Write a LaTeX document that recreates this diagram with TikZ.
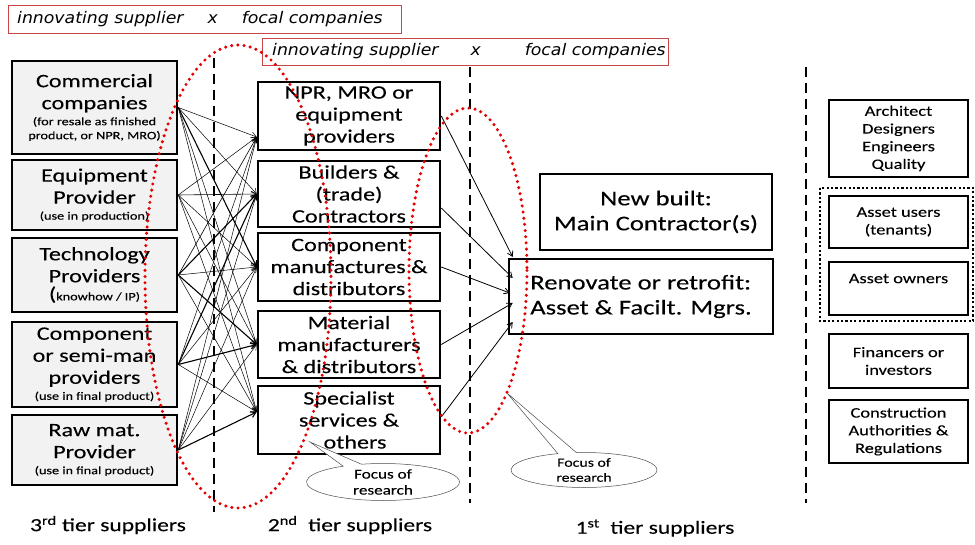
\documentclass[tikz,border=0pt]{standalone}
\usepackage{fontspec}
\setmainfont{Carlito}[FakeStretch=1.27, FakeBold=0.15]
\newfontfamily\verd{DejaVu Sans}[FakeStretch=1.08]
\usetikzlibrary{arrows.meta,shapes.geometric,shapes.callouts}
\definecolor{lgray}{RGB}{242,242,242}
\definecolor{dotred}{RGB}{230,0,0}
\definecolor{boxred}{RGB}{200,70,70}
\newcommand\sm[1]{{\fontsize{11.2}{12}\selectfont #1}}
\tikzset{
  box/.style={draw, line width=2.6pt, align=center, inner sep=0pt, font=\fontsize{19}{22}\selectfont},
  lbox/.style={box, fill=lgray, minimum width=165pt},
  mbox/.style={box, fill=white, minimum width=182pt},
  fbox/.style={box, fill=white, font=\fontsize{21}{25}\selectfont},
  rbox/.style={draw, line width=2.4pt, align=center, inner sep=0pt, minimum width=139pt, font=\fontsize{14.5}{17.7}\selectfont},
  arr/.style={-{Straight Barb[length=5pt,width=6pt]}, line width=0.5pt},
  tierdash/.style={line width=2.8pt, dash pattern=on 10pt off 6pt},
  reddots/.style={draw=dotred, line width=3.4pt, dash pattern=on 0pt off 6.2pt, line cap=round},
  redtext/.style={font=\verd\fontsize{16}{18}\selectfont\itshape, anchor=west, inner sep=0pt},
  focus/.style={ellipse callout, draw=black!70, line width=0.5pt, fill=white, align=center, inner sep=0pt},
  tierlabel/.style={font=\fontsize{18.5}{20}\selectfont, inner sep=0pt}
}
\begin{document}
\begin{tikzpicture}[x=1pt,y=-1pt]
\path[use as bounding box, fill=white] (0,0) rectangle (975,545);

% top red boxes
\draw[boxred, line width=0.8pt] (8,5) rectangle (401,33);
\node[redtext] (t1) at (17,19) {innovating supplier\hspace{24pt}x\hspace{24pt}focal companies};
\draw[boxred, line width=0.8pt] (262,38) rectangle (668,65);
\node[redtext] (t2) at (272,51) {innovating supplier\hspace{32pt}x\hspace{44pt}focal companies};

% dashed tier separators
\coordinate (d1a) at (214,58); \coordinate (d1b) at (214,512);
\coordinate (d2a) at (470,67); \coordinate (d2b) at (470,503);
\coordinate (d3a) at (806,67); \coordinate (d3b) at (806,503);
\draw[tierdash] (d1a) -- (d1b);
\draw[tierdash] (d2a) -- (d2b);
\draw[tierdash] (d3a) -- (d3b);

% 3rd tier
\node[lbox, minimum height=93pt] (com) at (94.5,107.5) {Commercial\\companies\\[-6pt]\sm{(for resale as finished}\\[-8pt]\sm{product, or NPR, MRO)}};
\node[lbox, minimum height=70pt] (equ) at (94.5,195) {Equipment\\Provider\\[-6pt]\sm{(use in production)}};
\node[lbox, minimum height=74pt] (tech) at (94.5,275) {Technology\\Providers\\[-4pt](\sm{knowhow / IP)}};
\node[lbox, minimum height=85pt] (comp) at (94.5,364.5) {Component\\or semi-man\\providers\\[-6pt]\sm{(use in final product)}};
\node[lbox, minimum height=70pt] (raw) at (94.5,450) {Raw mat.\\Provider\\[-6pt]\sm{(use in final product)}};

% 2nd tier
\node[mbox, minimum height=68pt] (npr) at (349,116) {NPR, MRO or\\equipment\\providers};
\node[mbox, minimum height=66pt] (bui) at (349,194) {Builders \&\\(trade)\\Contractors};
\node[mbox, minimum height=68pt] (cmf) at (349,267) {Component\\manufactures \&\\distributors};
\node[mbox, minimum height=67pt] (mat) at (349,344.5) {Material\\manufacturers\\\& distributors};
\node[mbox, minimum height=68pt] (spe) at (349,420) {Specialist\\services \&\\\hspace{12pt}others};

% 1st tier
\node[fbox, minimum width=232pt, minimum height=76pt] (new) at (656,212) {New built:\\Main Contractor(s)};
\node[fbox, minimum width=264pt, minimum height=75pt, align=left] (ren) at (641,296.5) {Renovate or retrofit:\\Asset \& Facilt. Mgrs.};

% right column
\node[rbox, minimum height=77pt] (arch) at (898.5,138.5) {Architect\\Designers\\Engineers\\Quality};
\draw[line width=2.2pt, dash pattern=on 2.2pt off 2.2pt] (820,188) rectangle (973,321);
\node[rbox, minimum height=52pt] (users) at (898.5,222) {Asset users\\(tenants)};
\node[rbox, minimum height=53pt, text depth=20pt] (owners) at (898.5,288.5) {Asset owners};
\node[rbox, minimum height=54pt] (fin) at (898.5,361) {Financers or\\investors};
\node[rbox, minimum height=63pt] (cons) at (898.5,431.5) {Construction\\Authorities \&\\Regulations};

% arrow targets
\coordinate (npr-in) at ([yshift=-21pt]npr.west);
\coordinate (bui-in) at (bui.west);
\coordinate (cmf-in) at (cmf.west);
\coordinate (mat-in) at (mat.west);
\coordinate (spe-in) at ([yshift=8pt]spe.west);

% 3rd -> 2nd tier
\foreach \s/\t/\w in {
  com/npr/0.5, com/bui/0.5, com/cmf/1.1, com/mat/0.5, com/spe/0.5,
  equ/npr/0.5, equ/bui/0.6, equ/cmf/0.5, equ/mat/0.5, equ/spe/0.5,
  tech/npr/0.6, tech/bui/1.1, tech/cmf/0.5, tech/mat/1.1, tech/spe/0.5,
  comp/npr/0.5, comp/bui/1.1, comp/cmf/0.5, comp/mat/1.1, comp/spe/0.5,
  raw/npr/0.5, raw/bui/0.5, raw/cmf/0.5, raw/mat/0.5, raw/spe/1.1}
  \draw[arr, line width=\w pt] (\s.east) -- (\t-in);

% 2nd -> 1st tier
\coordinate (r1) at ([xshift=5pt,yshift=39.5pt]ren.west);
\coordinate (r2) at ([xshift=5pt,yshift=18.5pt]ren.west);
\coordinate (r3) at ([xshift=2pt,yshift=3.5pt]ren.west);
\coordinate (r4) at ([xshift=5pt,yshift=-6.5pt]ren.west);
\coordinate (r5) at ([xshift=5pt,yshift=-25.5pt]ren.west);
\draw[arr, line width=0.8pt] (npr.east) -- (r1);
\draw[arr, line width=0.8pt] ([yshift=-14pt]bui.east) -- (r2);
\draw[arr, line width=0.8pt] (cmf.east) -- (r3);
\draw[arr, line width=0.8pt] (mat.east) -- (r4);
\draw[arr, line width=0.8pt] ([yshift=3pt]spe.east) -- (r5);

% red dotted focus ellipses
\draw[reddots] (238,276.5) ellipse [x radius=93, y radius=231.5];
\draw[reddots] (468,270.5) ellipse [x radius=59, y radius=162.5];

% callouts
\coordinate (tip1) at (310,442);
\coordinate (tip2) at (507,393);
\node[focus, minimum width=153pt, minimum height=37pt, callout absolute pointer={(tip1)}, font=\fontsize{13.5}{16}\selectfont] (c1) at (383,482) {Focus of\\research};
\node[focus, minimum width=146pt, minimum height=35pt, callout absolute pointer={(tip2)}, font=\fontsize{12.5}{15}\selectfont] (c2) at (584,470) {Focus of\\research};

% tier labels
\node[tierlabel] (l3) at (108,525) {3\textsuperscript{rd} tier suppliers};
\node[tierlabel] (l2) at (350,525) {2\textsuperscript{nd}\ \ tier suppliers};
\node[tierlabel] (l1) at (655,528) {1\textsuperscript{st}\ \ tier suppliers};
\end{tikzpicture}
\end{document}
